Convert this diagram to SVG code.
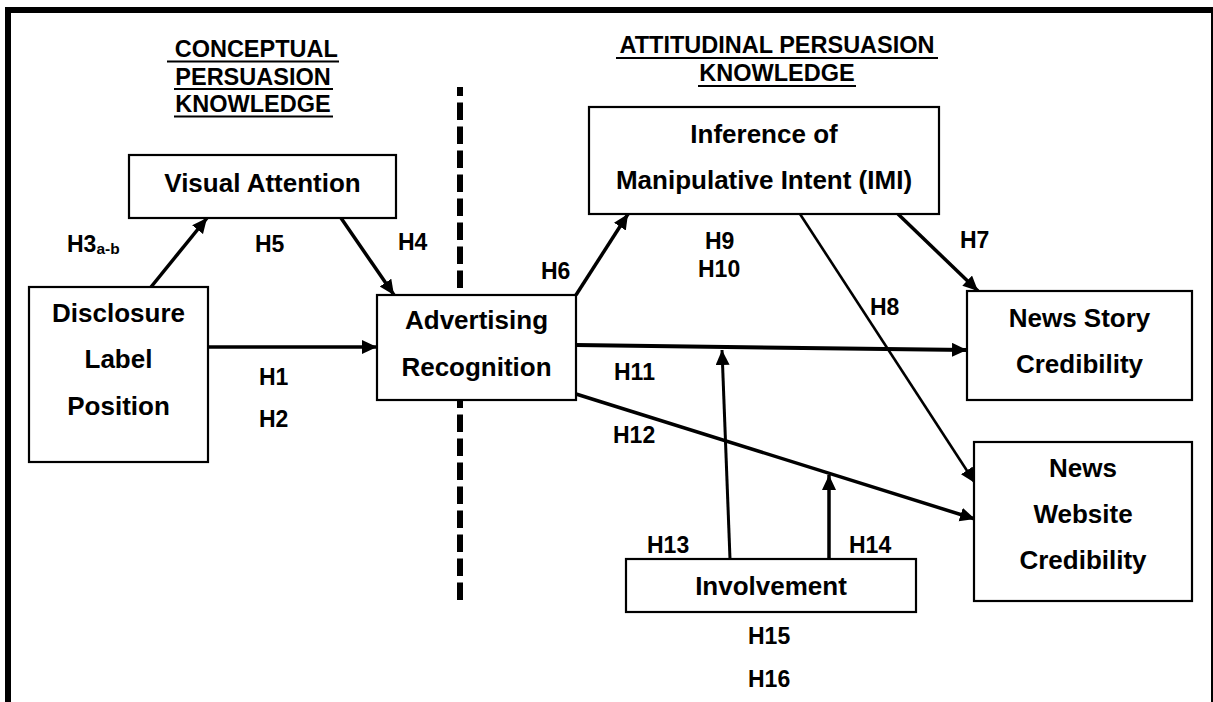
<svg xmlns="http://www.w3.org/2000/svg" width="1213" height="702" viewBox="0 0 1213 702">
  <defs>
    <marker id="arrow" markerUnits="userSpaceOnUse" markerWidth="16" markerHeight="15" refX="15" refY="7" orient="auto">
      <path d="M0,0 L15,7 L0,14 z" fill="#000"/>
    </marker>
    <style>
      text { font-family: "Liberation Sans", Arial, sans-serif; font-weight: bold; fill: #000; }
      .node rect { fill: #fff; stroke: #000; stroke-width: 2.2; }
      .node text { font-size: 26px; text-anchor: middle; }
      .hdr { font-size: 23.5px; }
      .hdr text { text-anchor: middle; }
      .ul { stroke: #000; stroke-width: 2; }
      .lbl { font-size: 23px; }
      .edge { stroke: #000; stroke-width: 3.5; fill: none; marker-end: url(#arrow); }
    </style>
  </defs>

  <rect width="1213" height="702" fill="#fff"/>

  <!-- outer frame: heavy top and left rules, light right rule -->
  <g id="frame" fill="#000">
    <rect x="5" y="7" width="1208" height="6"/>
    <rect x="5" y="7" width="6" height="695"/>
    <rect x="1211" y="7" width="2" height="695"/>
  </g>

  <!-- section headings -->
  <g id="heading-conceptual" class="hdr">
    <text x="253" y="57" xml:space="preserve"> CONCEPTUAL</text>
    <text x="253" y="84.5">PERSUASION</text>
    <text x="253" y="112">KNOWLEDGE</text>
    <line class="ul" x1="167" y1="61.5" x2="339" y2="61.5"/>
    <line class="ul" x1="174" y1="89" x2="333" y2="89"/>
    <line class="ul" x1="174" y1="116.5" x2="333" y2="116.5"/>
  </g>
  <g id="heading-attitudinal" class="hdr">
    <text x="777" y="53">ATTITUDINAL PERSUASION</text>
    <text x="777" y="81">KNOWLEDGE</text>
    <line class="ul" x1="616" y1="58" x2="938" y2="58"/>
    <line class="ul" x1="698" y1="86" x2="856" y2="86"/>
  </g>

  <!-- divider between the two knowledge types -->
  <line id="divider" x1="460" y1="87" x2="460" y2="601" stroke="#000" stroke-width="6" stroke-dasharray="17.5 6.5" stroke-dashoffset="8.5"/>

  <!-- connectors -->
  <g id="connectors">
    <line class="edge" x1="151" y1="287" x2="207" y2="218"/>
    <line class="edge" x1="341" y1="218" x2="394" y2="295"/>
    <line class="edge" x1="208" y1="347" x2="377" y2="347"/>
    <line class="edge" x1="576" y1="295" x2="628" y2="214"/>
    <line class="edge" x1="898" y1="214" x2="978" y2="291"/>
    <line class="edge" x1="800" y1="214" x2="975" y2="483" style="stroke-width:2.6"/>
    <line class="edge" x1="576" y1="345" x2="967" y2="350" style="stroke-width:4"/>
    <line class="edge" x1="576" y1="394" x2="975" y2="519"/>
    <line class="edge" x1="730" y1="559" x2="722" y2="350" style="stroke-width:3"/>
    <line class="edge" x1="829" y1="559" x2="829" y2="475"/>
  </g>

  <!-- nodes -->
  <g id="visual-attention" class="node">
    <rect x="129" y="155" width="267" height="63"/>
    <text x="262.5" y="192">Visual Attention</text>
  </g>
  <g id="disclosure-label-position" class="node">
    <rect x="29" y="287" width="179" height="175"/>
    <text x="118.5" y="322">Disclosure</text>
    <text x="118.5" y="368">Label</text>
    <text x="118.5" y="415">Position</text>
  </g>
  <g id="advertising-recognition" class="node">
    <rect x="377" y="295" width="199" height="105"/>
    <text x="476.5" y="329">Advertising</text>
    <text x="476.5" y="376">Recognition</text>
  </g>
  <g id="inference-manipulative-intent" class="node">
    <rect x="589" y="107" width="350" height="107"/>
    <text x="764" y="143">Inference of</text>
    <text x="764" y="189">Manipulative Intent (IMI)</text>
  </g>
  <g id="news-story-credibility" class="node">
    <rect x="967" y="291" width="225" height="109"/>
    <text x="1079.5" y="327">News Story</text>
    <text x="1079.5" y="373">Credibility</text>
  </g>
  <g id="news-website-credibility" class="node">
    <rect x="974" y="442" width="218" height="159"/>
    <text x="1083" y="477">News</text>
    <text x="1083" y="523">Website</text>
    <text x="1083" y="569">Credibility</text>
  </g>
  <g id="involvement" class="node">
    <rect x="626" y="559" width="290" height="53"/>
    <text x="771" y="595">Involvement</text>
  </g>

  <!-- hypothesis labels -->
  <g id="hypotheses" class="lbl">
    <text x="67" y="252">H3<tspan font-size="15.5" dy="1.5">a-b</tspan></text>
    <text x="255" y="252">H5</text>
    <text x="398" y="250">H4</text>
    <text x="259" y="385">H1</text>
    <text x="259" y="427">H2</text>
    <text x="541" y="279">H6</text>
    <text x="705" y="249">H9</text>
    <text x="698" y="277">H10</text>
    <text x="960" y="248">H7</text>
    <text x="870" y="315">H8</text>
    <text x="614" y="380">H11</text>
    <text x="613" y="443">H12</text>
    <text x="647" y="553">H13</text>
    <text x="849" y="553">H14</text>
    <text x="748" y="644">H15</text>
    <text x="748" y="687">H16</text>
  </g>
</svg>
